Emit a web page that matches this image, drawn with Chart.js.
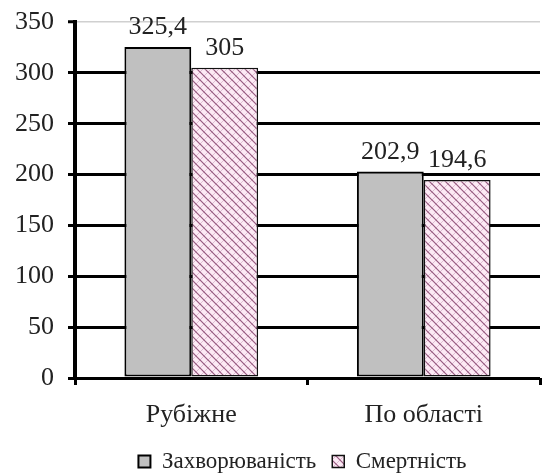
<!DOCTYPE html>
<html>
<head>
<meta charset="utf-8">
<script src="https://cdn.jsdelivr.net/npm/chart.js@4.4.1/dist/chart.umd.min.js"></script>
<style>
  html, body { margin: 0; padding: 0; background: #fff; }
  #wrap { width: 542px; height: 473px; }
</style>
</head>
<body>
<div id="wrap"><canvas id="c" width="542" height="473"></canvas></div>
<script>
const categories = ['Рубіжне', 'По області'];
const seriesNames = ['Захворюваність', 'Смертність'];
const morbidity = [325.4, 202.9];
const mortality = [305, 194.6];
const yTickValues = [0, 50, 100, 150, 200, 250, 300, 350];

const SERIF = '"Liberation Serif", "DejaVu Serif", serif';

// pink crosshatch fill for the second series
function makeHatch() {
  const s = 8;
  const p = document.createElement('canvas');
  p.width = s; p.height = s;
  const g = p.getContext('2d');
  g.fillStyle = '#fdeaf5';
  g.fillRect(0, 0, s, s);
  g.strokeStyle = '#975a80';
  g.lineWidth = 1.2;
  g.beginPath();
  g.moveTo(-1, -1); g.lineTo(s + 1, s + 1);
  g.moveTo(-1, s - 1); g.lineTo(1, s + 1);
  g.moveTo(s - 1, -1); g.lineTo(s + 1, 1);
  g.stroke();
  g.strokeStyle = 'rgba(151,90,128,0.3)';
  g.lineWidth = 1;
  g.beginPath();
  g.moveTo(0, s); g.lineTo(s, 0);
  g.stroke();
  return g.createPattern(p, 'repeat');
}

// value labels above each bar, decimal comma
const valueLabels = {
  id: 'valueLabels',
  afterDatasetsDraw(chart) {
    const ctx = chart.ctx;
    ctx.save();
    ctx.font = '26px ' + SERIF;
    ctx.fillStyle = '#222';
    ctx.textAlign = 'center';
    ctx.textBaseline = 'alphabetic';
    chart.data.datasets.forEach((ds, i) => {
      chart.getDatasetMeta(i).data.forEach((bar, j) => {
        const txt = String(ds.data[j]).replace('.', ',');
        ctx.fillText(txt, bar.x, bar.y - 13);
      });
    });
    ctx.restore();
  }
};

// centre the legend under the plot area rather than the whole canvas
const legendUnderPlot = {
  id: 'legendUnderPlot',
  afterLayout(chart) {
    const lg = chart.legend;
    if (!lg) return;
    const shift = (chart.chartArea.left + chart.chartArea.right) / 2 - (lg.left + lg.right) / 2 - 5;
    lg.left += shift;
    lg.right += shift;
  }
};

new Chart(document.getElementById('c'), {
  type: 'bar',
  data: {
    labels: categories,
    datasets: [
      {
        label: seriesNames[0],
        data: morbidity,
        backgroundColor: '#c0c0c0',
        borderColor: '#000',
        borderWidth: 2,
        borderSkipped: false
      },
      {
        label: seriesNames[1],
        data: mortality,
        backgroundColor: makeHatch(),
        borderColor: '#111',
        borderWidth: 1.5,
        borderSkipped: false
      }
    ]
  },
  options: {
    responsive: false,
    animation: false,
    layout: { padding: { top: 22, right: 2, left: 0, bottom: 0 } },
    datasets: { bar: { categoryPercentage: 0.575, barPercentage: 1 } },
    scales: {
      x: {
        offset: true,
        grid: {
          display: true,
          drawOnChartArea: false,
          tickLength: 7,
          tickColor: '#000',
          tickWidth: 3
        },
        border: { display: false },
        ticks: {
          color: '#222',
          font: { family: SERIF, size: 26 },
          padding: 15
        },
        afterFit(scale) { scale.height = 56; }
      },
      y: {
        min: 0,
        max: 350,
        afterBuildTicks(scale) { scale.ticks = yTickValues.map(v => ({ value: v })); },
        grid: {
          color: c => (c.tick && c.tick.value === 350 ? '#d0d0d0' : '#000'),
          lineWidth: c => (c.tick && c.tick.value === 350 ? 1.5 : 3),
          tickLength: 7,
          tickColor: '#000',
          tickWidth: 3
        },
        border: { display: true, color: '#000', width: 4 },
        ticks: {
          color: '#222',
          font: { family: SERIF, size: 26 },
          padding: 14
        },
        afterFit(scale) {
          scale.width = 75;
          scale.paddingTop = 0;
          scale.paddingBottom = 0;
        }
      }
    },
    plugins: {
      legend: {
        position: 'bottom',
        maxHeight: 39,
        labels: {
          color: '#222',
          font: { family: SERIF, size: 23 },
          boxWidth: 12,
          boxHeight: 12,
          padding: 16
        }
      },
      tooltip: { enabled: false }
    }
  },
  plugins: [valueLabels, legendUnderPlot]
});
</script>
</body>
</html>
